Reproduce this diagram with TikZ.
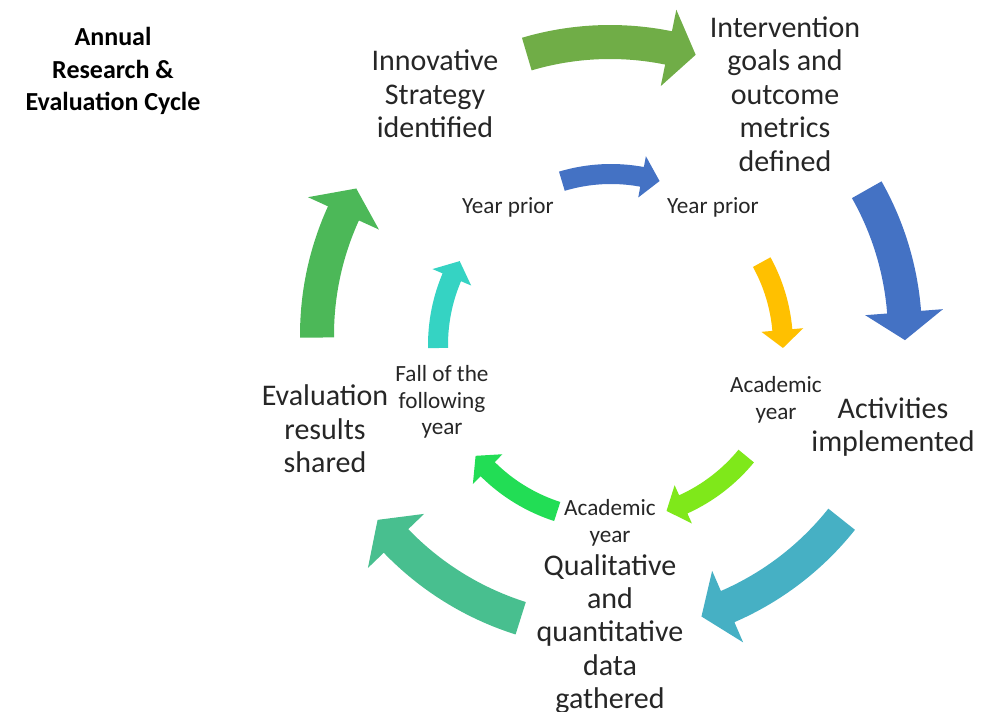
\documentclass[tikz,border=0pt]{standalone}
\usepackage{fontspec}
\setmainfont{Carlito}

\definecolor{ringgreen}{HTML}{70AD47}
\definecolor{ringblue}{HTML}{4472C4}
\definecolor{ringteal}{HTML}{46B0C4}
\definecolor{ringsea}{HTML}{48BF8F}
\definecolor{ringleaf}{HTML}{4CB858}
\definecolor{yearblue}{HTML}{4472C4}
\definecolor{yearamber}{HTML}{FFC000}
\definecolor{yearlime}{HTML}{7FE81A}
\definecolor{yeargreen}{HTML}{22DD55}
\definecolor{yearcyan}{HTML}{35D3C3}

% curved block arrow, clockwise:
% #1 colour, #2 centre, #3 radius, #4 start, #5 end, #6 half width, #7 head half width, #8 head length
\newcommand{\cyclearrow}[8]{%
  \pgfmathsetmacro{\cycHead}{#5+#8/#3*180/pi}%
  \pgfmathsetmacro{\cycOut}{#3+#6}\pgfmathsetmacro{\cycIn}{#3-#6}%
  \pgfmathsetmacro{\cycHo}{#3+#7}\pgfmathsetmacro{\cycHi}{#3-#7}%
  \fill[#1] ([shift={(#2)}]#4:\cycOut) arc[start angle=#4, end angle=\cycHead, radius=\cycOut]
    -- ([shift={(#2)}]\cycHead:\cycHo) -- ([shift={(#2)}]#5:#3) -- ([shift={(#2)}]\cycHead:\cycHi)
    -- ([shift={(#2)}]\cycHead:\cycIn) arc[start angle=\cycHead, end angle=#4, radius=\cycIn] -- cycle;
}

\begin{document}
\begin{tikzpicture}[x=0.5pt, y=0.5pt,
    steplabel/.style={align=center, text=black!85, font=\fontsize{15}{16.7}\selectfont},
    timelabel/.style={align=center, text=black!85, font=\fontsize{11.6}{13.2}\selectfont}]
  \useasboundingbox (0,0) rectangle (986,712);
  \coordinate (outer) at (610,377);
  \coordinate (inner) at (611,367);

  % outer ring
  \cyclearrow{ringgreen}{outer}{293}{106.5}{73}{17}{39}{28}
  \cyclearrow{ringblue}{outer}{295}{29.5}{-1}{17}{39}{28}
  \cyclearrow{ringteal}{outer}{296}{-38.5}{-72}{17}{39}{28}
  \cyclearrow{ringsea}{outer}{297}{-107.5}{-141.5}{17}{39}{28}
  \cyclearrow{ringleaf}{outer}{293}{180.5}{150}{17}{39}{28}

  % inner ring
  \cyclearrow{yearblue}{inner}{171}{106.7}{73.5}{10}{21}{18}
  \cyclearrow{yearamber}{inner}{172}{28.8}{-1}{10}{21}{18}
  \cyclearrow{yearlime}{inner}{175}{-39.4}{-71.5}{10}{21}{18}
  \cyclearrow{yeargreen}{inner}{175}{-107.9}{-140.7}{10}{21}{18}
  \cyclearrow{yearcyan}{inner}{173}{181}{151}{10}{21}{18}

  \node[align=center, font=\bfseries\fontsize{13}{16.2}\selectfont] (title) at (113,641)
    {Annual\\Research \&\\Evaluation Cycle};

  \node[steplabel] (strategy) at (435,618) {Innovative\\Strategy\\identified};
  \node[steplabel] (goals) at (785,618) {Intervention\\goals and\\outcome\\metrics\\defined};
  \node[steplabel] (activities) at (893,285) {Activities\\implemented};
  \node[steplabel] (data) at (610,78) {Qualitative\\and\\quantitative\\data\\gathered};
  \node[steplabel] (results) at (325,283) {Evaluation\\results\\shared};

  \node[timelabel] (prior1) at (508,505) {Year prior};
  \node[timelabel] (prior2) at (713,505) {Year prior};
  \node[timelabel] (acad1) at (776,312) {Academic\\year};
  \node[timelabel] (acad2) at (610,189) {Academic\\year};
  \node[timelabel] (fall) at (442,310) {Fall of the\\following\\year};
\end{tikzpicture}
\end{document}
